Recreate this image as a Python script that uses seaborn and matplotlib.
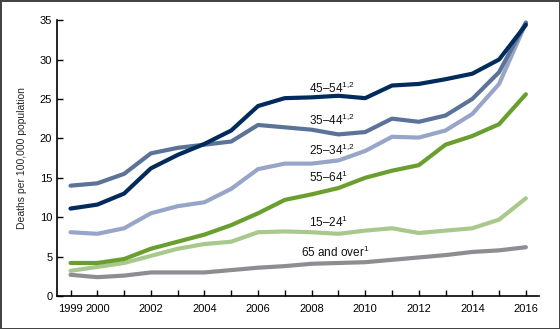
import pandas as pd
import seaborn as sns
import matplotlib.pyplot as plt

# drug overdose death rates by age group, 1999-2016
years = list(range(1999, 2017))
age_65_over = [2.7, 2.4, 2.6, 3.0, 3.0, 3.0, 3.3, 3.6, 3.8, 4.1, 4.2, 4.3, 4.6, 4.9, 5.2, 5.6, 5.8, 6.2]
age_15_24 = [3.2, 3.7, 4.2, 5.1, 6.0, 6.6, 6.9, 8.1, 8.2, 8.1, 7.9, 8.3, 8.6, 8.0, 8.3, 8.6, 9.7, 12.4]
age_55_64 = [4.2, 4.2, 4.7, 6.0, 6.9, 7.8, 9.0, 10.5, 12.2, 12.9, 13.7, 15.0, 15.9, 16.6, 19.2, 20.3, 21.8, 25.6]
age_25_34 = [8.1, 7.9, 8.6, 10.5, 11.4, 11.9, 13.6, 16.1, 16.8, 16.8, 17.2, 18.4, 20.2, 20.1, 21.0, 23.1, 26.9, 34.6]
age_35_44 = [14.0, 14.3, 15.5, 18.1, 18.8, 19.2, 19.6, 21.7, 21.4, 21.1, 20.5, 20.8, 22.5, 22.1, 22.9, 25.0, 28.4, 34.7]
age_45_54 = [11.1, 11.6, 13.0, 16.2, 17.9, 19.3, 21.0, 24.1, 25.1, 25.2, 25.4, 25.1, 26.7, 26.9, 27.5, 28.2, 30.0, 34.4]

groups = ["65 and over", "15–24", "55–64", "25–34", "35–44", "45–54"]
series = [age_65_over, age_15_24, age_55_64, age_25_34, age_35_44, age_45_54]
colors = ["#8d8d92", "#a9c98c", "#6a9e2e", "#97a6c8", "#5c7399", "#002b5c"]

# label text and where it sits (year, rate)
labels = ["65 and over$^{1}$", "15–24$^{1}$", "55–64$^{1}$", "25–34$^{1{,}2}$", "35–44$^{1{,}2}$", "45–54$^{1{,}2}$"]
label_pos = [(2007.6, 5.6), (2007.9, 9.3), (2007.9, 15.0), (2007.9, 18.5), (2007.9, 22.3), (2007.9, 26.3)]

rows = []
for g, vals in zip(groups, series):
    for yr, v in zip(years, vals):
        rows.append({"Year": yr, "Rate": v, "Group": g})
df = pd.DataFrame(rows)

sns.set_style("ticks")
plt.rcParams['font.family'] = ['Liberation Sans', 'DejaVu Sans']
plt.rcParams['mathtext.fontset'] = 'custom'
plt.rcParams['mathtext.rm'] = 'Liberation Sans'
plt.rcParams['mathtext.it'] = 'Liberation Sans'

fig = plt.figure(figsize=(5.6, 3.29), dpi=100)
fig.patch.set_edgecolor("#444444")
fig.patch.set_linewidth(2)
ax = fig.add_axes([0.102, 0.100, 0.861, 0.839])

sns.lineplot(data=df, x="Year", y="Rate", hue="Group", hue_order=groups,
             palette=colors, linewidth=3, legend=False, ax=ax)

for txt, (lx, ly) in zip(labels, label_pos):
    ax.text(lx, ly, txt, fontsize=8.5, ha="left", va="center", color="#111111")

ax.set_xlim(1998.5, 2016.5)
ax.set_ylim(0, 35)
ax.set_xticks(years)
ax.set_xticklabels([str(y) if (y == 1999 or y % 2 == 0) else "" for y in years])
ax.set_yticks(range(0, 36, 5))
ax.tick_params(axis="both", direction="in", length=4.5, width=1, labelsize=8, colors="black")
ax.tick_params(axis="x", pad=6)
ax.set_xlabel("")
ax.set_ylabel("Deaths per 100,000 population", fontsize=7.5, labelpad=9)
sns.despine(ax=ax)
for s in ["left", "bottom"]:
    ax.spines[s].set_linewidth(1.2)
    ax.spines[s].set_color("black")

plt.savefig("out.png", dpi=100)
